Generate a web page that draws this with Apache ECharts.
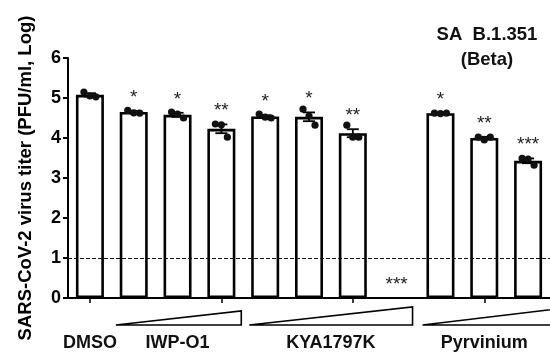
<!DOCTYPE html>
<html><head><meta charset="utf-8">
<script src="https://cdn.jsdelivr.net/npm/echarts@6/dist/echarts.min.js"></script>
<style>html,body{margin:0;padding:0;background:#fff}#c{width:550px;height:357px}</style>
</head><body><div id="c"></div>
<script>
// ---- data ----
const categories = ['DMSO','IWP-O1 low','IWP-O1 mid','IWP-O1 high','KYA1797K 1','KYA1797K 2','KYA1797K 3','KYA1797K 4','Pyrvinium low','Pyrvinium mid','Pyrvinium high'];
const means = [5.08, 4.65, 4.58, 4.23, 4.54, 4.53, 4.12, 0, 4.62, 4.00, 3.43];
const sem = [0.04, 0.03, 0.05, 0.11, 0.03, 0.11, 0.10, 0, 0.01, 0.03, 0.06];
const points = [[5.15,5.05,5.03],[4.69,4.63,4.62],[4.65,4.60,4.50],[4.35,4.33,4.02],[4.60,4.52,4.50],[4.72,4.55,4.32],[4.32,4.02,4.02],[],[4.62,4.61,4.62],[4.02,3.95,4.02],[3.49,3.47,3.32]];
const stars = ['', '*','*','**','*','*','**','***','*','**','***'];
const groupLabels = ['DMSO','IWP-O1','KYA1797K','Pyrvinium'];
const groupCenters = [0, 2, 5.5, 9];          // category index positions of group labels
const wedgeGroups = [[1,3],[4,7],[8,10]];     // category ranges under dose wedges
const yTicks = [0,1,2,3,4,5,6];
const detectionLimit = 1;
const yTitle = 'SARS-CoV-2 virus titer (PFU/ml, Log)';
const variantLines = ['SA  B.1.351', '(Beta)'];

const FONT = '"Liberation Sans", Arial, Helvetica, sans-serif';
const chart = echarts.init(document.getElementById('c'), null, {renderer:'canvas'});

const barData = means.map(v => v > 0 ? v : {value: v, itemStyle: {borderWidth: 0}});
const errData = means.map((m,i)=>[i, m, sem[i]]);
const ptData = [];
points.forEach((arr,i)=>arr.forEach((v,k)=>ptData.push([i, v, k])));
const starData = means.map((m,i)=>[i, m + sem[i]]);

chart.setOption({
  animation: false,
  grid: {left: 68, right: -4, top: 58, bottom: 59},
  xAxis: {
    type: 'category', data: categories,
    axisLine: {lineStyle: {color: '#000', width: 2}},
    axisTick: {show: true, alignWithLabel: true, length: 5, lineStyle: {color: '#000', width: 1.5}},
    axisLabel: {show: false},
    splitLine: {show: false}
  },
  yAxis: {
    type: 'value', min: yTicks[0], max: yTicks[yTicks.length-1], interval: 1,
    name: yTitle, nameLocation: 'middle', nameRotate: 90, nameGap: 33,
    nameTextStyle: {fontFamily: FONT, fontWeight: 'bold', fontSize: 18.5, color: '#000'},
    axisLine: {show: true, lineStyle: {color: '#000', width: 2}},
    axisTick: {show: true, length: 5, lineStyle: {color: '#000', width: 2}},
    axisLabel: {fontFamily: FONT, fontWeight: 'bold', fontSize: 18, color: '#000', margin: 7},
    splitLine: {show: false}
  },
  series: [
    {
      type: 'bar', data: barData, barWidth: 28, z: 2,
      itemStyle: {color: '#fff', borderColor: '#000', borderWidth: 2.6},
      markLine: {
        silent: true, symbol: 'none', z: 10,
        label: {show: false},
        lineStyle: {color: '#111', type: [4, 2], width: 1},
        data: [{yAxis: detectionLimit}]
      }
    },
    {
      type: 'custom', data: errData, z: 5,
      renderItem: (params, api) => {
        const i = api.value(0), m = api.value(1), s = api.value(2);
        if (!(s > 0)) return null;
        const t = api.coord([i, m + s]), b = api.coord([i, m - s]);
        const hw = 6;
        const st = {stroke: '#000', lineWidth: 1.8};
        return {type: 'group', children: [
          {type: 'line', shape: {x1: t[0], y1: t[1], x2: b[0], y2: b[1]}, style: st},
          {type: 'line', shape: {x1: t[0]-hw, y1: t[1], x2: t[0]+hw, y2: t[1]}, style: st},
          {type: 'line', shape: {x1: b[0]-hw, y1: b[1], x2: b[0]+hw, y2: b[1]}, style: st}
        ]};
      }
    },
    {
      type: 'custom', data: ptData, z: 6,
      renderItem: (params, api) => {
        const c = api.coord([api.value(0), api.value(1)]);
        const off = (api.value(2) - 1) * 6;
        return {type: 'circle', shape: {cx: c[0] + off, cy: c[1], r: 3.6}, style: {fill: '#111'}};
      }
    },
    {
      type: 'custom', data: starData, z: 7,
      renderItem: (params, api) => {
        const i = params.dataIndex;
        const c = api.coord([api.value(0), api.value(1)]);
        return {type: 'text', x: c[0], y: c[1] - 4,
          style: {text: stars[i], fontFamily: FONT, fontSize: 19, fill: '#222', align: 'center', verticalAlign: 'bottom'}};
      }
    }
  ]
});

// decorations: group labels, dose wedges, variant label
function catX(idx){
  const lo = Math.floor(idx), hi = Math.ceil(idx);
  const a = chart.convertToPixel({xAxisIndex:0}, lo);
  const b = chart.convertToPixel({xAxisIndex:0}, hi);
  return a + (b - a) * (idx - lo);
}
const band = catX(1) - catX(0);
const graphics = [];
groupLabels.forEach((t, g) => {
  graphics.push({type: 'text', x: catX(groupCenters[g]), y: 343,
    style: {text: t, fontFamily: FONT, fontWeight: 'bold', fontSize: 18, fill: '#111', align: 'center', verticalAlign: 'middle'}});
});
const wedgeHeights = [14, 18, 17];
const wedgeInsets = [[4, 2], [6, 6], [4, -14]];
wedgeGroups.forEach((r, g) => {
  const x0 = catX(r[0]) - band/2 + wedgeInsets[g][0], x1 = catX(r[1]) + band/2 - wedgeInsets[g][1];
  const yb = 325, yt = yb - wedgeHeights[g];
  graphics.push({type: 'polygon', shape: {points: [[x0, yb], [x1, yb], [x1, yt]]},
    style: {fill: '#fff', stroke: '#000', lineWidth: 1.6}});
});
variantLines.forEach((t, k) => {
  graphics.push({type: 'text', x: 487, y: 35 + k * 25,
    style: {text: t, fontFamily: FONT, fontWeight: 'bold', fontSize: 18.5, fill: '#111', align: 'center', verticalAlign: 'middle'}});
});
chart.setOption({graphic: graphics});
</script>
</body></html>
